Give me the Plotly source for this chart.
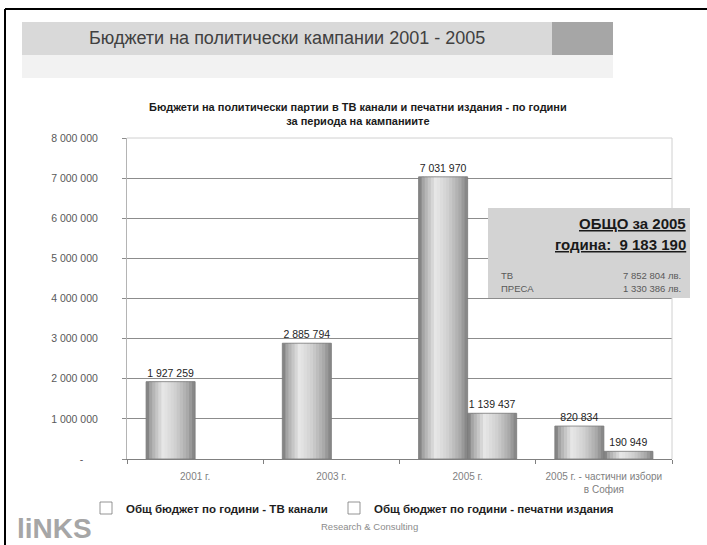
import numpy as np
import plotly.graph_objects as go

# ---------------- data ----------------
categories = ["2001 г.", "2003 г.", "2005 г.", "2005 г. - частични избори<br>в София"]
tv_values = [1927259, 2885794, 7031970, 820834]
press_values = [None, None, 1139437, 190949]
series_names = ["Общ бюджет по години - ТВ канали", "Общ бюджет по години - печатни издания"]
y_tick_values = [0, 1000000, 2000000, 3000000, 4000000, 5000000, 6000000, 7000000, 8000000]
y_tick_labels = ["-\u00a0\u00a0\u00a0\u00a0\u00a0", "1 000 000", "2 000 000", "3 000 000", "4 000 000",
                 "5 000 000", "6 000 000", "7 000 000", "8 000 000"]
box_year_title = "ОБЩО за 2005"
box_total_label = "година:"
box_total = 9183190
box_labels = ["ТВ", "ПРЕСА"]
box_values = [7852804, 1330386]
page_title = "Бюджети на политически кампании 2001 - 2005"
chart_title = "Бюджети на политически партии в ТВ канали и печатни издания - по години<br>за периода на кампаниите"

FONT = "Liberation Sans, Arial, sans-serif"

# ---------------- layout geometry helpers ----------------
FW, FH = 707, 545
L, R, T, B = 127, 35, 138, 86
W = FW - L - R
H = FH - T - B


def xp(px):
    return (px - L) / W


def yp(py):
    return (FH - B - py) / H


def fmt(v):
    return f"{v:,.0f}".replace(",", " ")


# ---------------- bars ----------------
bar_w = 0.36
N = 16
step = bar_w / N
keys_t = [0.0, 0.1, 0.35, 0.6, 0.85, 1.0]
keys_c = [118, 168, 232, 208, 168, 128]
legend_ids = ["legend", "legend2"]

fig = go.Figure()
for s, (vals, off) in enumerate([(tv_values, -bar_w), (press_values, 0.0)]):
    for i in range(N):
        t = (i + 0.5) / N
        g = int(np.interp(t, keys_t, keys_c))
        w = step * 1.8 if i < N - 1 else step
        fig.add_trace(go.Bar(
            x=categories, y=vals, width=w, offset=off + i * step,
            marker=dict(color=f"rgb({g},{g},{g})", line=dict(width=0)),
            showlegend=False, hoverinfo="skip"))
    fig.add_trace(go.Bar(
        x=categories, y=vals, width=bar_w, offset=off, name=series_names[s],
        legend=legend_ids[s],
        marker=dict(color="rgba(255,255,255,0)", line=dict(color="#7a7a7a", width=0.8)),
        texttemplate="%{y:,.0f}", textposition="outside", cliponaxis=False,
        textfont=dict(family=FONT, size=10.5, color="#1e1e1e")))

# ---------------- shapes ----------------
shapes = [
    # banner
    dict(type="rect", xref="paper", yref="paper", x0=xp(22), x1=xp(613), y0=yp(55), y1=yp(78),
         fillcolor="#f2f2f2", line=dict(width=0), layer="below"),
    dict(type="rect", xref="paper", yref="paper", x0=xp(22), x1=xp(613), y0=yp(22), y1=yp(55),
         fillcolor="#d9d9d9", line=dict(width=0), layer="below"),
    dict(type="rect", xref="paper", yref="paper", x0=xp(552), x1=xp(613), y0=yp(22), y1=yp(55),
         fillcolor="#a6a6a6", line=dict(width=0), layer="below"),
    # plot area top & right border
    dict(type="line", xref="paper", yref="paper", x0=0, x1=1, y0=1, y1=1,
         line=dict(color="#d0d0d0", width=1), layer="above"),
    dict(type="line", xref="paper", yref="paper", x0=1, x1=1, y0=0, y1=1,
         line=dict(color="#d0d0d0", width=1), layer="above"),
    # summary box
    dict(type="rect", xref="paper", yref="paper", x0=xp(488), x1=xp(690), y0=yp(298), y1=yp(208),
         fillcolor="#d3d3d3", line=dict(width=0), layer="above"),
    # outer frame
    dict(type="line", xref="paper", yref="paper", x0=xp(5), x1=xp(707), y0=yp(9), y1=yp(9),
         line=dict(color="#000000", width=2), layer="above"),
    dict(type="line", xref="paper", yref="paper", x0=xp(5), x1=xp(5), y0=yp(9), y1=yp(545),
         line=dict(color="#000000", width=2), layer="above"),
]

# ---------------- annotations ----------------
ann = [
    dict(text=page_title, x=xp(287), y=yp(38), font=dict(size=18, color="#404040")),
    dict(text=f"<b>{chart_title}</b>", x=xp(358), y=yp(114), font=dict(size=11, color="#1a1a1a")),
    dict(text=f"<b><u>{box_year_title}</u></b>", x=xp(688), y=yp(223), xanchor="right",
         font=dict(size=15, color="#1a1a1a")),
    dict(text=f"<b><u>{box_total_label}\u00a0\u00a0{fmt(box_total)}</u></b>", x=xp(688), y=yp(244),
         xanchor="right", font=dict(size=15, color="#1a1a1a")),
    dict(text="<b>liNKS</b>", x=xp(15), y=yp(528), xanchor="left",
         font=dict(size=28, color="#a6a6a6")),
    dict(text="Research & Consulting", x=xp(369), y=yp(526), font=dict(size=9.5, color="#8c8c8c")),
]
for i, (lab, v) in enumerate(zip(box_labels, box_values)):
    yy = 275 + i * 13
    ann.append(dict(text=lab, x=xp(499), y=yp(yy), xanchor="left", font=dict(size=9.5, color="#595959")))
    ann.append(dict(text=f"{fmt(v)} лв.", x=xp(683), y=yp(yy), xanchor="right",
                    font=dict(size=9.5, color="#595959")))
for a in ann:
    a.update(xref="paper", yref="paper", showarrow=False, yanchor="middle")
    a.setdefault("xanchor", "center")
    a["font"]["family"] = FONT

legend_style = dict(orientation="h", xanchor="left", yanchor="middle", y=yp(508),
                    font=dict(family=FONT, size=11.5, color="#1e1e1e", weight="bold"),
                    bgcolor="rgba(0,0,0,0)", itemwidth=30)

fig.update_layout(
    width=FW, height=FH, margin=dict(l=L, r=R, t=T, b=B, pad=0),
    paper_bgcolor="#ffffff", plot_bgcolor="#ffffff",
    barmode="overlay", separators=", ",
    font=dict(family=FONT, color="#333333"),
    shapes=shapes, annotations=ann,
    legend=dict(x=xp(86), **legend_style),
    legend2=dict(x=xp(334), **legend_style),
    xaxis=dict(type="category", showline=True, linecolor="#808080", linewidth=1,
               ticks="outside", tickson="boundaries", ticklen=4, tickcolor="#808080",
               ticklabelstandoff=8,
               tickfont=dict(family=FONT, size=10, color="#7f7f7f"), showgrid=False,
               range=[-0.5, 3.5], fixedrange=True),
    yaxis=dict(range=[0, 8000000], tickvals=y_tick_values, ticktext=y_tick_labels,
               showline=True, linecolor="#b4b4b4", linewidth=1,
               ticks="outside", ticklen=4, tickcolor="#8c8c8c",
               ticklabelstandoff=22,
               tickfont=dict(family=FONT, size=10.5, color="#595959"),
               showgrid=True, gridcolor="#8c8c8c", gridwidth=1, zeroline=False,
               fixedrange=True),
)

fig.write_html("out.html")
